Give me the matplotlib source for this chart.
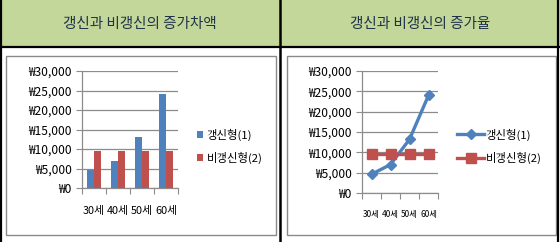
import matplotlib
matplotlib.use("Agg")
import matplotlib.pyplot as plt
from matplotlib.patches import Rectangle
import numpy as np

plt.rcParams['font.family'] = ['Noto Sans CJK KR', 'DejaVu Sans']

# data
categories = ['30세', '40세', '50세', '60세']
renewal = [4600, 7000, 13200, 24000]        # 갱신형(1)
non_renewal = [9600, 9600, 9600, 9600]      # 비갱신형(2)
series_names = ['갱신형(1)', '비갱신형(2)']
titles = ['갱신과 비갱신의 증가차액', '갱신과 비갱신의 증가율']
yticks = [0, 5000, 10000, 15000, 20000, 25000, 30000]

BLUE = '#4F81BD'
RED = '#C0504D'
GRID = '#8C8C8C'
HEAD = '#C4D79B'
TITLE_C = '#1F3347'

W, H = 560, 242
fig = plt.figure(figsize=(W / 100, H / 100), dpi=100)
fig.patch.set_facecolor('white')


def rect(x0, y0, x1, y1):
    return [x0 / W, 1 - y1 / H, (x1 - x0) / W, (y1 - y0) / H]


def frac(x, y):
    return x / W, 1 - y / H


# table header and borders
bg = fig.add_axes([0, 0, 1, 1])
bg.set_xlim(0, W)
bg.set_ylim(H, 0)
bg.axis('off')
bg.add_patch(Rectangle((0, 0), W, 46, facecolor=HEAD, edgecolor='none'))
bg.plot([0, W], [46.5, 46.5], color='black', lw=1.6)
bg.plot([1, 1], [0, H], color='black', lw=1.6)
bg.plot([558, 558], [0, H], color='black', lw=1.6)
bg.plot([279.5, 279.5], [0, H], color='black', lw=1.8)
# chart frames
bg.add_patch(Rectangle((5.5, 55.5), 270.5, 179.5, facecolor='none', edgecolor='#8A8A8A', lw=1.0))
bg.add_patch(Rectangle((286.5, 55.5), 269, 179.5, facecolor='none', edgecolor='#8A8A8A', lw=1.0))
bg.text(140, 24, titles[0], ha='center', va='center', fontsize=10.5, color=TITLE_C)
bg.text(420, 24, titles[1], ha='center', va='center', fontsize=10.5, color=TITLE_C)


def won(v):
    return '₩{:,}'.format(int(v))


def style_axes(ax, label_size, label_pad):
    ax.set_xlim(0, len(categories))
    ax.set_ylim(0, 30000)
    ax.set_yticks(yticks)
    ax.set_yticklabels([won(v) for v in yticks], fontsize=8.6, color='black')
    ax.yaxis.grid(True, color=GRID, lw=0.9)
    ax.set_axisbelow(True)
    ax.tick_params(axis='y', length=4.5, color=GRID, pad=3, direction='out')
    ax.set_xticks(np.arange(len(categories) + 1))
    ax.set_xticklabels([])
    ax.tick_params(axis='x', which='major', length=4, color=GRID, direction='out')
    ax.set_xticks(np.arange(len(categories)) + 0.5, minor=True)
    ax.set_xticklabels(categories, minor=True, fontsize=label_size)
    ax.tick_params(axis='x', which='minor', length=0, pad=label_pad)
    for s in ['top', 'right']:
        ax.spines[s].set_visible(False)
    for s in ['left', 'bottom']:
        ax.spines[s].set_color(GRID)
        ax.spines[s].set_linewidth(0.9)
    ax.set_facecolor('none')


# bar chart
ax1 = fig.add_axes(rect(82, 71, 178, 188))
x = np.arange(len(categories)) + 0.5
bw = 1 / 3.5
b1 = ax1.bar(x - bw / 2, renewal, width=bw, color=BLUE, zorder=3)
b2 = ax1.bar(x + bw / 2, non_renewal, width=bw, color=RED, zorder=3)
style_axes(ax1, 7.8, 13)
leg1 = ax1.legend([b1, b2], series_names, loc='center left',
                  bbox_to_anchor=frac(197, 146), bbox_transform=fig.transFigure,
                  frameon=False, fontsize=8.2, handlelength=0.55, handleheight=0.55,
                  handletextpad=0.3, labelspacing=0.95, borderpad=0, borderaxespad=0)

# line chart
ax2 = fig.add_axes(rect(362, 71, 438, 193))
l1, = ax2.plot(x, renewal, color=BLUE, lw=2.4, marker='D', ms=5.5, zorder=3)
l2, = ax2.plot(x, non_renewal, color=RED, lw=2.4, marker='s', ms=6.5, zorder=3)
style_axes(ax2, 6.0, 12)
leg2 = ax2.legend([l1, l2], series_names, loc='center left',
                  bbox_to_anchor=frac(457, 146), bbox_transform=fig.transFigure,
                  frameon=False, fontsize=8.2, handlelength=2.4,
                  handletextpad=0.1, labelspacing=0.95, borderpad=0, borderaxespad=0)

fig.savefig('out.png', dpi=100, facecolor='white')
